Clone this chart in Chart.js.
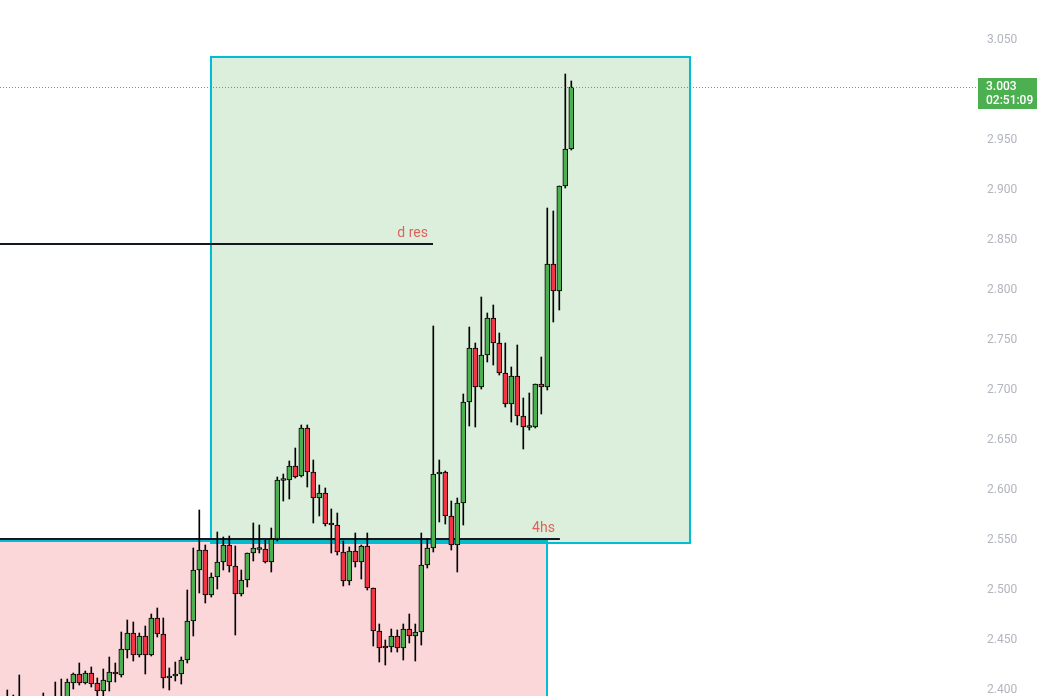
<!DOCTYPE html>
<html>
<head>
<meta charset="utf-8">
<script src="https://cdn.jsdelivr.net/npm/chart.js@4.4.1/dist/chart.umd.min.js"></script>
<style>
  html, body { margin: 0; padding: 0; background: #ffffff; }
  #wrap { width: 1037px; height: 696px; position: relative; }
</style>
</head>
<body>
<div id="wrap"><canvas id="chartVela"></canvas></div>
<script>
// candles, one per bar
var opens = [2.383, 2.388, 2.384, 2.380, 2.372, 2.368, 2.380, 2.386, 2.381, 2.389,
  2.385, 2.407, 2.416, 2.407, 2.417, 2.407, 2.399, 2.408, 2.418, 2.415,
  2.440, 2.457, 2.435, 2.454, 2.435, 2.472, 2.456, 2.412, 2.414, 2.416,
  2.430, 2.469, 2.520, 2.540, 2.495, 2.513, 2.528, 2.545, 2.524, 2.496,
  2.510, 2.537, 2.5405, 2.541, 2.528, 2.551, 2.6095, 2.610, 2.624, 2.614,
  2.662, 2.618, 2.592, 2.597, 2.5655, 2.565, 2.538, 2.509, 2.539, 2.528,
  2.544, 2.502, 2.459, 2.4425, 2.443, 2.454, 2.442, 2.461, 2.454, 2.458,
  2.525, 2.542, 2.616, 2.618, 2.574, 2.545, 2.587, 2.688, 2.742, 2.703,
  2.735, 2.772, 2.747, 2.717, 2.686, 2.714, 2.674, 2.6625, 2.663, 2.706,
  2.703, 2.826, 2.799, 2.904, 2.941]
var highs = [2.400, 2.395, 2.415, 2.390, 2.386, 2.388, 2.397, 2.392, 2.408, 2.411,
  2.411, 2.417, 2.427, 2.419, 2.423, 2.412, 2.421, 2.433, 2.427, 2.458,
  2.470, 2.468, 2.457, 2.464, 2.476, 2.482, 2.472, 2.422, 2.428, 2.433,
  2.500, 2.542, 2.580, 2.545, 2.517, 2.558, 2.553, 2.554, 2.544, 2.520,
  2.537, 2.567, 2.565, 2.550, 2.562, 2.613, 2.616, 2.629, 2.642, 2.665,
  2.665, 2.630, 2.605, 2.602, 2.581, 2.577, 2.549, 2.543, 2.557, 2.545,
  2.557, 2.502, 2.466, 2.450, 2.461, 2.460, 2.466, 2.476, 2.466, 2.557,
  2.551, 2.764, 2.630, 2.619, 2.589, 2.592, 2.696, 2.763, 2.747, 2.793,
  2.777, 2.785, 2.757, 2.747, 2.723, 2.745, 2.692, 2.697, 2.706, 2.733,
  2.882, 2.879, 2.904, 3.016, 3.009]
var lows = [2.372, 2.378, 2.375, 2.368, 2.360, 2.362, 2.374, 2.376, 2.378, 2.382,
  2.380, 2.401, 2.405, 2.406, 2.403, 2.394, 2.393, 2.399, 2.408, 2.413,
  2.432, 2.429, 2.433, 2.416, 2.434, 2.453, 2.402, 2.400, 2.409, 2.406,
  2.427, 2.454, 2.497, 2.487, 2.493, 2.501, 2.520, 2.518, 2.455, 2.494,
  2.503, 2.529, 2.537, 2.527, 2.518, 2.549, 2.589, 2.591, 2.612, 2.613,
  2.603, 2.567, 2.574, 2.564, 2.537, 2.535, 2.504, 2.505, 2.523, 2.511,
  2.500, 2.444, 2.428, 2.425, 2.438, 2.438, 2.430, 2.447, 2.429, 2.445,
  2.522, 2.538, 2.568, 2.566, 2.540, 2.518, 2.565, 2.664, 2.663, 2.701,
  2.728, 2.725, 2.715, 2.683, 2.668, 2.665, 2.641, 2.660, 2.662, 2.676,
  2.700, 2.768, 2.780, 2.902, 2.940]
var closes = [2.388, 2.384, 2.380, 2.372, 2.368, 2.380, 2.386, 2.381, 2.389, 2.385,
  2.408, 2.416, 2.407, 2.417, 2.406, 2.399, 2.410, 2.418, 2.416, 2.441,
  2.457, 2.435, 2.454, 2.435, 2.472, 2.456, 2.412, 2.414, 2.416, 2.430,
  2.469, 2.520, 2.540, 2.495, 2.513, 2.528, 2.545, 2.524, 2.496, 2.510,
  2.537, 2.542, 2.5415, 2.528, 2.551, 2.610, 2.6105, 2.624, 2.613, 2.662,
  2.618, 2.592, 2.597, 2.566, 2.5650, 2.538, 2.509, 2.539, 2.528, 2.544,
  2.502, 2.459, 2.442, 2.442, 2.454, 2.442, 2.461, 2.454, 2.458, 2.525,
  2.542, 2.616, 2.618, 2.574, 2.545, 2.587, 2.688, 2.742, 2.703, 2.735,
  2.772, 2.747, 2.717, 2.686, 2.714, 2.674, 2.663, 2.6630, 2.706, 2.703,
  2.826, 2.799, 2.904, 2.941, 3.003]

// price scale ticks
var priceTicks = [2.40, 2.45, 2.50, 2.55, 2.60, 2.65, 2.70, 2.75, 2.80, 2.85, 2.90, 2.95, 3.00, 3.05]

// drawn zones (bar index from/to, price top/bottom)
var zoneFrom = [-5, 33.95]
var zoneTo = [89.95, 113.78]
var zoneTop = [2.549, 3.033]
var zoneBottom = [2.30, 2.547]

// horizontal levels
var levelNames = ['d res', '4hs']
var levelPrices = [2.8465, 2.5515]
var levelEnd = [70.95, 92.1]

var lastPrice = 3.003
var countdown = '02:51:09'

var verde = '#4caf50'
var vermelho = '#f23645'

var wickData = []
var bodyData = []
var bodyColors = []
for (var i = 0; i < opens.length; i++) {
    wickData.push({ x: i, y: [lows[i], highs[i]] })
    bodyData.push({ x: i, y: [Math.min(opens[i], closes[i]), Math.max(opens[i], closes[i])] })
    bodyColors.push(closes[i] >= opens[i] ? verde : vermelho)
}

// desenhos: caixas e linhas
var desenhos = {
    id: 'desenhos',
    beforeDatasetsDraw: function (chart) {
        var ctx = chart.ctx
        var xs = chart.scales.x
        var ys = chart.scales.y
        var area = chart.chartArea
        ctx.save()
        ctx.beginPath()
        ctx.rect(area.left, area.top, area.right - area.left, area.bottom - area.top)
        ctx.clip()

        var fills = ['rgba(242, 54, 69, 0.2)', 'rgba(76, 175, 80, 0.2)']
        for (var z = 0; z < zoneFrom.length; z++) {
            var x1 = xs.getPixelForValue(zoneFrom[z])
            var x2 = xs.getPixelForValue(zoneTo[z])
            var y1 = ys.getPixelForValue(zoneTop[z])
            var y2 = ys.getPixelForValue(zoneBottom[z])
            ctx.fillStyle = fills[z]
            ctx.fillRect(x1, y1, x2 - x1, y2 - y1)
            ctx.strokeStyle = '#00bcd4'
            ctx.lineWidth = 2
            ctx.strokeRect(x1, y1, x2 - x1, y2 - y1)
        }

        for (var k = 0; k < levelNames.length; k++) {
            var ly = Math.round(ys.getPixelForValue(levelPrices[k]))
            var lx = xs.getPixelForValue(levelEnd[k])
            ctx.strokeStyle = '#131722'
            ctx.lineWidth = 2
            ctx.beginPath()
            ctx.moveTo(area.left, ly)
            ctx.lineTo(lx, ly)
            ctx.stroke()
            ctx.fillStyle = '#e0625c'
            ctx.font = '14px Roboto'
            ctx.textAlign = 'right'
            ctx.textBaseline = 'bottom'
            ctx.fillText(levelNames[k], lx - 5, ly - 4)
        }
        ctx.restore()
    },
    afterDraw: function (chart) {
        var ctx = chart.ctx
        var ys = chart.scales.y
        var area = chart.chartArea
        var py = ys.getPixelForValue(lastPrice)
        ctx.save()
        ctx.strokeStyle = verde
        ctx.lineWidth = 1
        ctx.setLineDash([1, 2])
        ctx.beginPath()
        ctx.moveTo(area.left, Math.round(py) + 0.5)
        ctx.lineTo(area.right + 3, Math.round(py) + 0.5)
        ctx.stroke()
        ctx.setLineDash([])

        // etiqueta do preço
        ctx.fillStyle = verde
        ctx.fillRect(area.right + 3, py - 9, 62, 31)
        ctx.fillStyle = '#ffffff'
        ctx.font = '500 12px Roboto'
        ctx.textAlign = 'left'
        ctx.textBaseline = 'middle'
        ctx.fillText(lastPrice.toFixed(3), area.right + 11, py)
        ctx.fillText(countdown, area.right + 11, py + 14)
        ctx.restore()
    }
}

var ctxVela = document.getElementById('chartVela')

var chartVela = new Chart(ctxVela, {
    type: 'bar',
    data: {
        datasets: [{
            label: 'corpo',
            data: bodyData,
            backgroundColor: bodyColors,
            borderColor: '#000000',
            borderWidth: 1,
            borderSkipped: false,
            barThickness: 5,
            minBarLength: 2,
            grouped: false
        }, {
            label: 'pavio',
            data: wickData,
            backgroundColor: '#000000',
            borderWidth: 0,
            barThickness: 1,
            grouped: false
        }]
    },

    options: {
        responsive: true,
        maintainAspectRatio: false,
        animation: false,
        layout: { padding: 0 },
        plugins: {
            legend: { display: false },
            tooltip: { enabled: false },
            title: { display: false }
        },

        scales: {
            x: {
                type: 'linear',
                display: false,
                offset: false,
                min: -1.217,
                max: -1.217 + 975 / 6
            },

            y: {
                position: 'right',
                min: 2.394,
                max: 3.09,
                grid: { display: false, drawTicks: false },
                border: { display: false },
                afterFit: function (scale) {
                    scale.width = 62
                    scale.paddingTop = 0
                    scale.paddingBottom = 0
                },
                afterBuildTicks: function (scale) {
                    scale.ticks = priceTicks.map(function (v) { return { value: v } })
                },
                ticks: {
                    padding: 12,
                    color: '#b2b5be',
                    font: { family: 'Roboto', size: 12 },
                    callback: function (v) { return Number(v).toFixed(3) }
                }
            }
        }
    },
    plugins: [desenhos]
})
</script>
</body>
</html>
